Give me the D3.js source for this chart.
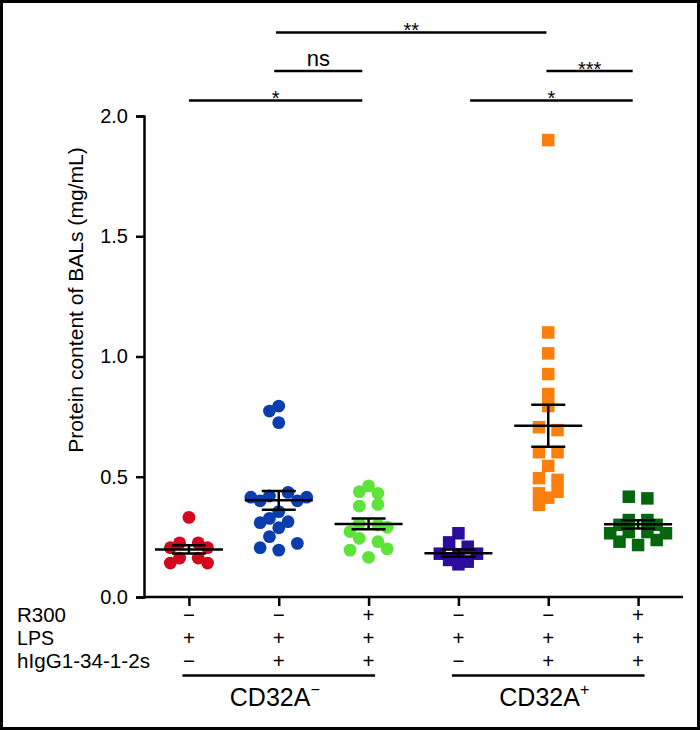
<!DOCTYPE html>
<html>
<head>
<meta charset="utf-8">
<script src="https://cdn.jsdelivr.net/npm/d3@7"></script>
<style>
  html, body { margin: 0; padding: 0; background: #fff; }
  svg { display: block; }
  text { font-family: "Liberation Sans", Arial, Helvetica, sans-serif; fill: #000; }
</style>
</head>
<body>
<svg id="chart" width="700" height="730"></svg>
<script>
// ---------------- data ----------------
const groups = ["g1", "g2", "g3", "g4", "g5", "g6"];
const shapes = ["circle", "circle", "circle", "square", "square", "square"];
const colors = ["#d3081c", "#0a3eae", "#5ee33a", "#2c0c9e", "#fa7f0c", "#06660d"];

const redValues    = [0.331, 0.225, 0.225, 0.205, 0.205, 0.162, 0.162, 0.141, 0.141];
const blueValues   = [0.794, 0.773, 0.725, 0.435, 0.42, 0.415, 0.415, 0.40, 0.40, 0.355, 0.327, 0.313, 0.309, 0.288, 0.251, 0.223, 0.205, 0.195];
const greenValues  = [0.462, 0.438, 0.431, 0.385, 0.378, 0.306, 0.299, 0.29, 0.272, 0.244, 0.23, 0.20, 0.195, 0.165];
const navyValues   = [0.265, 0.227, 0.209, 0.18, 0.18, 0.178, 0.154, 0.147, 0.136];
const orangeValues = [1.90, 1.10, 1.013, 0.927, 0.844, 0.794, 0.706, 0.694, 0.602, 0.602, 0.545, 0.494, 0.487, 0.438, 0.431, 0.413, 0.383];
const dkGreenValues= [0.417, 0.41, 0.32, 0.32, 0.30, 0.30, 0.27, 0.27, 0.265, 0.265, 0.237, 0.23, 0.216];

const means = [0.198, 0.402, 0.304, 0.182, 0.712, 0.302];
const sems  = [0.017, 0.039, 0.022, 0.015, 0.087, 0.017];

const yTicks = [0.0, 0.5, 1.0, 1.5, 2.0];
const yLabel = "Protein content of BALs (mg/mL)";

const rowLabels = ["R300", "LPS", "hIgG1-34-1-2s"];
const r300Signs = ["−", "−", "+", "−", "−", "+"];
const lpsSigns  = ["+", "+", "+", "+", "+", "+"];
const igSigns   = ["−", "+", "+", "−", "+", "+"];

const cellGroups = [
  { name: "CD32A", sup: "−", from: 0, to: 2, center: 1 },
  { name: "CD32A", sup: "+", from: 3, to: 5, center: 4 }
];

// significance brackets: from/to in group index units, level in data units
const brackets = [
  { from: 0.0,  to: 1.93, level: 2.064, label: "*" },
  { from: 3.13, to: 4.94, level: 2.064, label: "*" },
  { from: 0.95, to: 1.93, level: 2.187, label: "ns" },
  { from: 3.98, to: 4.94, level: 2.187, label: "***" },
  { from: 0.97, to: 3.98, level: 2.347, label: "**" }
];

const allValues = [redValues, blueValues, greenValues, navyValues, orangeValues, dkGreenValues];

// ---------------- layout ----------------
const svg = d3.select("#chart");
const W = 700, H = 730;

const x = d3.scalePoint().domain(groups).range([144, 683]).padding(0.5);
const xi = d3.scaleLinear().domain([0, 5]).range([x(groups[0]), x(groups[5])]);
const y = d3.scaleLinear().domain([0, 2]).range([597, 116]);

// frame
svg.append("rect").attr("x", 1.5).attr("y", 1.5).attr("width", W - 3).attr("height", H - 3)
  .attr("fill", "none").attr("stroke", "#000").attr("stroke-width", 3);

// y axis
const yAxis = d3.axisLeft(y).tickValues(yTicks).tickFormat(d3.format(".1f")).tickSize(8).tickPadding(8);
const gy = svg.append("g").attr("transform", "translate(144,0)").call(yAxis);
gy.select(".domain").attr("stroke-width", 2.5);
gy.selectAll(".tick line").attr("stroke-width", 2.5);
gy.selectAll(".tick text").attr("font-size", 20).attr("font-family", "Liberation Sans, Arial, sans-serif");

// x axis
const xAxis = d3.axisBottom(x).tickSize(9).tickFormat("");
const gx = svg.append("g").attr("transform", "translate(0,597)").call(xAxis);
gx.select(".domain").attr("stroke-width", 2.5).attr("d", "M144,0H683");
gx.selectAll(".tick line").attr("stroke-width", 2.5);

// y label
svg.append("text")
  .attr("transform", `translate(83,${(y(0.6) + y(1.87)) / 2}) rotate(-90)`)
  .attr("text-anchor", "middle")
  .attr("font-family", "Liberation Sans Narrow, Liberation Sans, Arial, sans-serif")
  .attr("font-size", 21)
  .attr("textLength", y(0.6) - y(1.87))
  .attr("lengthAdjust", "spacingAndGlyphs")
  .text(yLabel);

// ---------------- swarm layout (symmetric pair beeswarm) ----------------
const slot = 9.3;
function swarm(values, shape) {
  const minD = shape === "circle" ? 9.6 : 9.5;
  const placed = [];
  const collides = (px, py) => placed.some(p => Math.hypot(p.dx - px, p.py - py) < minD);
  let toggle = -1;
  for (let i = 0; i < values.length; ) {
    const pa = y(values[i]);
    const hasPair = i + 1 < values.length && Math.abs(y(values[i + 1]) - pa) < 5;
    if (hasPair) {
      const pb = y(values[i + 1]);
      let k = 1;
      while (k < 12 && (collides(-k * slot, pa) || collides(k * slot, pb))) k++;
      const s = toggle; toggle = -toggle;
      placed.push({ v: values[i], dx: s * k * slot, py: pa });
      placed.push({ v: values[i + 1], dx: -s * k * slot, py: pb });
      i += 2;
    } else {
      let off = null;
      if (!collides(0, pa)) off = 0;
      for (let k = 1; off === null && k < 12; k++) {
        const order = toggle < 0 ? [-k, k] : [k, -k];
        for (const o of order) if (!collides(o * slot, pa)) { off = o; break; }
      }
      if (off !== 0) toggle = -toggle;
      placed.push({ v: values[i], dx: (off || 0) * slot, py: pa });
      i += 1;
    }
  }
  return placed;
}

// points
allValues.forEach((vals, gi) => {
  const cx = x(groups[gi]);
  const pts = swarm(vals, shapes[gi]);
  const g = svg.append("g");
  if (shapes[gi] === "circle") {
    g.selectAll("circle").data(pts).join("circle")
      .attr("cx", d => cx + d.dx).attr("cy", d => d.py).attr("r", 6.4)
      .attr("fill", colors[gi]);
  } else {
    const s = 12.5;
    g.selectAll("rect").data(pts).join("rect")
      .attr("x", d => cx + d.dx - s / 2).attr("y", d => d.py - s / 2)
      .attr("width", s).attr("height", s)
      .attr("fill", colors[gi]);
  }
});

// mean ± SEM
const eb = svg.append("g").attr("stroke", "#000").attr("stroke-width", 2.5).attr("fill", "none");
means.forEach((m, gi) => {
  const cx = x(groups[gi]);
  const lo = m - sems[gi], hi = m + sems[gi];
  eb.append("line").attr("x1", cx - 34).attr("x2", cx + 34).attr("y1", y(m)).attr("y2", y(m));
  eb.append("line").attr("x1", cx).attr("x2", cx).attr("y1", y(lo)).attr("y2", y(hi));
  eb.append("line").attr("x1", cx - 17).attr("x2", cx + 17).attr("y1", y(lo)).attr("y2", y(lo));
  eb.append("line").attr("x1", cx - 17).attr("x2", cx + 17).attr("y1", y(hi)).attr("y2", y(hi));
});

// significance brackets
const br = svg.append("g");
brackets.forEach(b => {
  const x1 = xi(b.from), x2 = xi(b.to), yy = y(b.level);
  br.append("line").attr("x1", x1).attr("x2", x2).attr("y1", yy).attr("y2", yy)
    .attr("stroke", "#000").attr("stroke-width", 2.5);
  const isNs = b.label === "ns";
  br.append("text")
    .attr("x", (x1 + x2) / 2)
    .attr("y", isNs ? yy - 5 : yy + 4.5)
    .attr("text-anchor", "middle")
    .attr("font-size", isNs ? 22 : 20)
    .text(b.label);
});

// treatment table
const rowY = [615, 638, 661];
rowLabels.forEach((lab, i) => {
  svg.append("text").attr("x", 17).attr("y", rowY[i]).attr("dy", "0.35em")
    .attr("font-size", 20)
    .attr("textLength", i === 2 ? 133 : (i === 0 ? 49 : 37))
    .attr("lengthAdjust", "spacingAndGlyphs")
    .text(lab);
});
[r300Signs, lpsSigns, igSigns].forEach((signs, ri) => {
  svg.append("g").selectAll("text").data(signs).join("text")
    .attr("x", (d, i) => x(groups[i]))
    .attr("y", rowY[ri]).attr("dy", "0.35em")
    .attr("text-anchor", "middle")
    .attr("font-size", 20.5)
    .text(d => d);
});

// cell groups
cellGroups.forEach(c => {
  svg.append("line")
    .attr("x1", xi(c.from) - 6.5).attr("x2", xi(c.to) + 6.5)
    .attr("y1", 675.5).attr("y2", 675.5)
    .attr("stroke", "#000").attr("stroke-width", 2.5);
  const t = svg.append("text").attr("x", xi(c.center) - 4).attr("y", 706)
    .attr("text-anchor", "middle").attr("font-size", 25);
  t.append("tspan").text(c.name);
  t.append("tspan").attr("font-size", 16).attr("dy", -11).text(c.sup);
});
</script>
</body>
</html>
